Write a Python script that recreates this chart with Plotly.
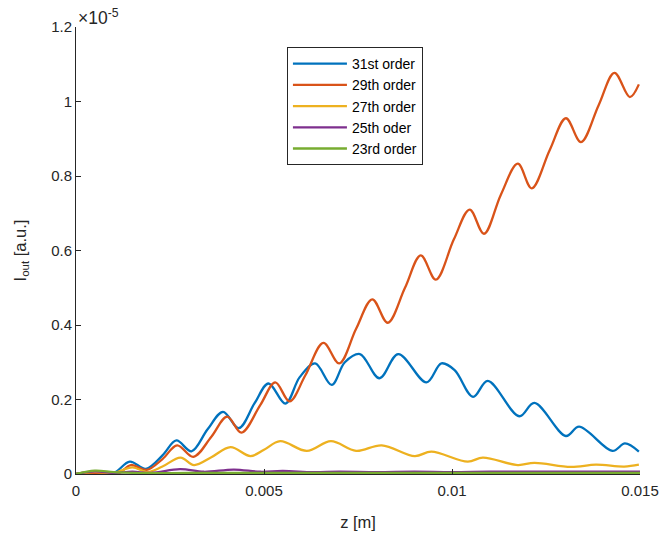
import numpy as np
import plotly.graph_objects as go

# z positions in mm (converted to m below); intensities in units of 1e-6 a.u.
z31 = [0, 0.5, 1.0, 1.43, 1.86, 2.3, 2.67, 3.07, 3.5, 3.91, 4.33, 4.75, 5.12, 5.57, 5.95, 6.36,
       6.80, 7.15, 7.55, 8.07, 8.57, 9.32, 9.72, 10.07, 10.56, 10.95, 11.79, 12.19, 13.03, 13.38,
       14.27, 14.60, 14.97]
i31 = [0, 0.05, 0.03, 0.33, 0.14, 0.5, 0.90, 0.61, 1.2, 1.67, 1.23, 1.9, 2.43, 1.89, 2.6, 2.97,
       2.39, 3.0, 3.22, 2.57, 3.22, 2.46, 2.97, 2.79, 2.07, 2.50, 1.55, 1.91, 1.02, 1.27,
       0.62, 0.82, 0.60]

z29 = [0, 0.5, 1.1, 1.46, 1.88, 2.3, 2.69, 3.12, 3.6, 4.02, 4.40, 4.9, 5.30, 5.68, 6.1, 6.58,
       7.0, 7.45, 7.88, 8.29, 8.75, 9.17, 9.57, 10.05, 10.47, 10.85, 11.3, 11.75, 12.12, 12.6,
       13.03, 13.43, 13.9, 14.32, 14.73, 14.97]
i29 = [0, 0.03, 0.0, 0.24, 0.11, 0.4, 0.77, 0.46, 1.0, 1.54, 1.11, 1.85, 2.46, 1.95, 2.65, 3.52,
       2.97, 3.9, 4.69, 4.06, 5.0, 5.87, 5.22, 6.3, 7.10, 6.45, 7.5, 8.33, 7.67, 8.7,
       9.55, 8.91, 9.9, 10.77, 10.12, 10.46]

z27 = [0, 0.5, 1.0, 1.5, 1.9, 2.3, 2.78, 3.14, 3.6, 4.11, 4.64, 5.0, 5.43, 6.14, 6.78, 7.45,
       8.13, 9.01, 9.45, 10.42, 10.82, 11.75, 12.19, 13.16, 13.83, 14.58, 14.97]
i27 = [0, 0.06, 0.03, 0.18, 0.05, 0.2, 0.44, 0.24, 0.45, 0.72, 0.48, 0.65, 0.88, 0.62, 0.88, 0.62,
       0.77, 0.48, 0.60, 0.33, 0.44, 0.24, 0.30, 0.19, 0.25, 0.20, 0.25]

z25 = [0, 0.5, 1.0, 1.5, 2.0, 2.77, 3.4, 4.2, 4.9, 5.5, 6.3, 7.0, 8.0, 9.0, 10.0, 11.0, 12.0,
       13.0, 14.0, 15.0]
i25 = [0, 0.07, 0.03, 0.06, 0.03, 0.13, 0.06, 0.12, 0.06, 0.08, 0.05, 0.06, 0.05, 0.06, 0.05,
       0.06, 0.06, 0.06, 0.06, 0.06]

z23 = [0, 0.5, 1.0, 1.5, 2.0, 3.0, 4.0, 5.0, 6.0, 7.0, 8.0, 9.0, 10.0, 11.0, 12.0, 13.0, 14.0, 15.0]
i23 = [0, 0.09, 0.05, 0.03, 0.02, 0.03, 0.03, 0.03, 0.03, 0.03, 0.03, 0.03, 0.03, 0.03, 0.03,
       0.03, 0.03, 0.03]

names = ["31st order", "29th order", "27th order", "25th oder", "23rd order"]
colors = ["#0072BD", "#D95319", "#EDB120", "#7E2F8E", "#77AC30"]

x_ticks = [0, 0.005, 0.01, 0.015]
x_ticktext = ["0", "0.005", "0.01", "0.015"]
y_ticks = [0, 0.2, 0.4, 0.6, 0.8, 1.0, 1.2]          # in units of 1e-5
y_ticktext = ["0", "0.2", "0.4", "0.6", "0.8", "1", "1.2"]

FONT = "Liberation Sans, Arial, Helvetica, sans-serif"
AX = "#262626"

fig = go.Figure()
for zs, vs, nm, c in zip([z31, z29, z27, z25, z23], [i31, i29, i27, i25, i23], names, colors):
    fig.add_trace(go.Scatter(
        x=np.array(zs) * 1e-3, y=np.array(vs) * 1e-6, mode="lines", name=nm,
        line=dict(color=c, width=2.3, shape="spline", smoothing=1.0)))

fig.update_layout(
    width=662, height=534,
    margin=dict(l=76, r=22, t=27, b=60, pad=0, autoexpand=False),
    paper_bgcolor="white", plot_bgcolor="white",
    font=dict(family=FONT, size=14, color=AX),
    showlegend=True,
    legend=dict(x=0.374, y=0.955, xanchor="left", yanchor="top",
                bgcolor="white", bordercolor=AX, borderwidth=1,
                font=dict(family=FONT, size=14, color="black"),
                itemwidth=54, tracegroupgap=0),
    xaxis=dict(range=[0, 0.015], tickvals=x_ticks, ticktext=x_ticktext, automargin=False,
               showgrid=False, zeroline=False, showline=True, linecolor=AX, linewidth=1,
               ticks="inside", ticklen=5, tickcolor=AX, mirror=False,
               tickfont=dict(size=15, color=AX), ticklabelstandoff=3,
               title=dict(text="z [m]", font=dict(size=16.5, color=AX), standoff=18)),
    yaxis=dict(range=[0, 1.2e-5], tickvals=[v * 1e-5 for v in y_ticks], ticktext=y_ticktext,
               automargin=False,
               showgrid=False, zeroline=False, showline=True, linecolor=AX, linewidth=1,
               ticks="inside", ticklen=5, tickcolor=AX, mirror=False,
               tickfont=dict(size=15, color=AX),
               title=dict(text="I<sub>out</sub> [a.u.]", font=dict(size=16.5, color=AX), standoff=20)),
)

fig.add_annotation(xref="paper", yref="paper", x=0, y=1.0, xanchor="left", yanchor="bottom",
                   text="×10<sup>-5</sup>", showarrow=False, xshift=0, yshift=-3,
                   font=dict(family=FONT, size=17.5, color=AX))

fig.write_html("out.html")
